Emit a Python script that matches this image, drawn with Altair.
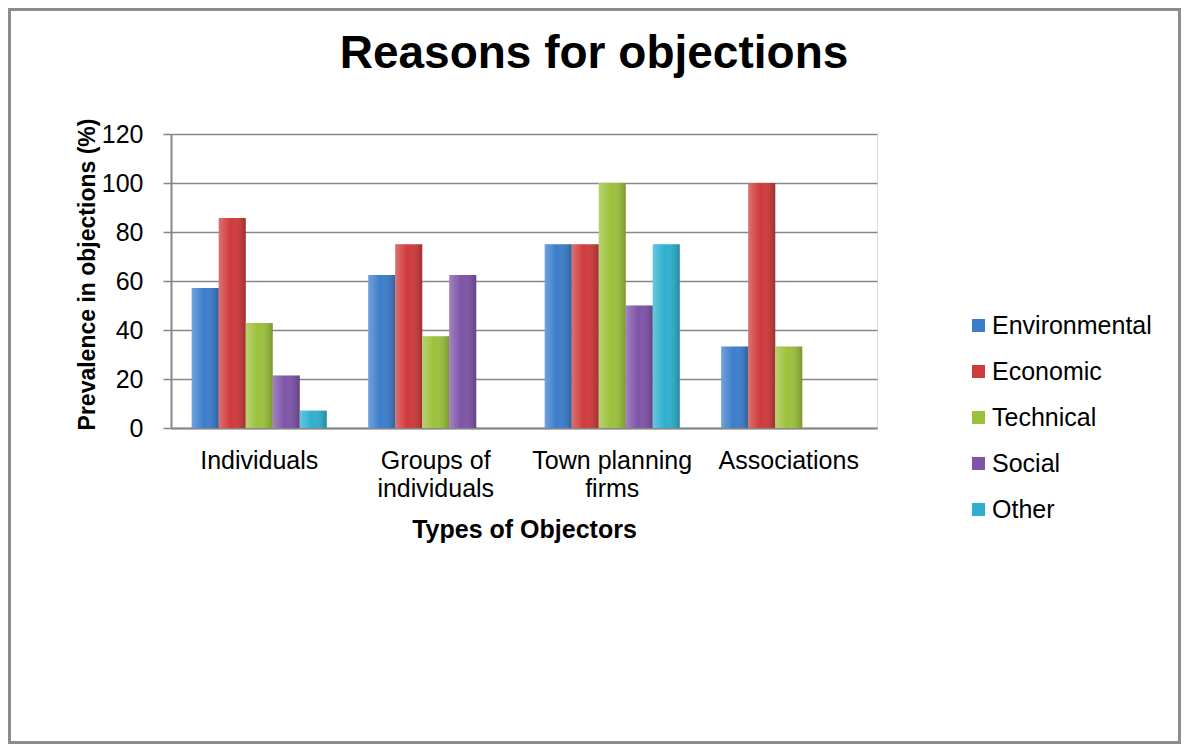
import altair as alt
import pandas as pd

categories = ["Individuals", "Groups of individuals", "Town planning firms", "Associations"]
reasons = ["Environmental", "Economic", "Technical", "Social", "Other"]
environmental = [57.1, 62.5, 75.0, 33.3]
economic = [85.7, 75.0, 75.0, 100.0]
technical = [42.9, 37.5, 100.0, 33.3]
social = [21.4, 62.5, 50.0, None]
other = [7.1, None, 75.0, None]
colors = ["#3B7DCB", "#CF3A3A", "#9CC13B", "#7E53A8", "#2DB0CF"]
y_ticks = [0, 20, 40, 60, 80, 100, 120]

series = [environmental, economic, technical, social, other]
rows = []
for reason, vals in zip(reasons, series):
    for cat, v in zip(categories, vals):
        if v is not None:
            rows.append({"Objector": cat, "Reason": reason, "Value": v})
df = pd.DataFrame(rows)

FONT = "Liberation Sans"
GRAY = "#878787"

label_expr = ("datum.label == 'Groups of individuals' ? ['Groups of', 'individuals'] : "
              "datum.label == 'Town planning firms' ? ['Town planning', 'firms'] : datum.label")

x_enc = alt.X("Objector:N", sort=categories,
              scale=alt.Scale(domain=categories, paddingInner=0.235, paddingOuter=0.1175),
              axis=alt.Axis(title="Types of Objectors", labelAngle=0, ticks=False,
                            domainColor=GRAY, domainWidth=2, labelFont=FONT, labelFontSize=25,
                            labelColor="black", labelPadding=20, labelLineHeight=28,
                            labelExpr=label_expr, titleFont=FONT, titleFontSize=25,
                            titleFontWeight="bold", titleColor="black", titleY=109,
                            titleBaseline="alphabetic", grid=False))
xo_enc = alt.XOffset("Reason:N", sort=reasons,
                     scale=alt.Scale(domain=reasons, paddingInner=0, paddingOuter=0))
y_enc = alt.Y("Value:Q", scale=alt.Scale(domain=[0, 120], nice=False),
              axis=alt.Axis(title="Prevalence in objections (%)", values=y_ticks,
                            tickSize=8, tickColor=GRAY, tickWidth=1.5, domainColor=GRAY,
                            domainWidth=2, gridColor=GRAY, gridWidth=1.3,
                            labelFont=FONT, labelFontSize=25, labelColor="black",
                            labelPadding=20, titleFont=FONT, titleFontSize=23,
                            titleFontWeight="bold", titleColor="black", titleX=-77,
                            titleY=140, titleAlign="center", titleBaseline="alphabetic",
                            titleAngle=270))

bars = alt.Chart(df).mark_bar().encode(
    x=x_enc, xOffset=xo_enc, y=y_enc,
    color=alt.Color("Reason:N", sort=reasons,
                    scale=alt.Scale(domain=reasons, range=colors),
                    legend=alt.Legend(title=None, orient="none", legendX=795, legendY=179,
                                      symbolType="square", symbolSize=169,
                                      symbolStrokeWidth=0, labelFont=FONT,
                                      labelFontSize=25, labelColor="black",
                                      rowPadding=20, padding=0, labelOffset=1)),
)

shine = alt.Chart(df).mark_bar(
    fill=alt.Gradient(
        gradient="linear", x1=0, x2=1, y1=0, y2=0,
        stops=[alt.GradientStop(color="rgba(255,255,255,0.28)", offset=0),
               alt.GradientStop(color="rgba(255,255,255,0)", offset=0.45),
               alt.GradientStop(color="rgba(0,0,0,0.22)", offset=1)],
    )
).encode(x=x_enc, xOffset=xo_enc, y=y_enc)

frame = alt.Chart(pd.DataFrame({"k": [0]})).mark_rect(
    fill="transparent", stroke="#8c8c8c", strokeWidth=3
).encode(x=alt.value(-161.5), x2=alt.value(1008.5), y=alt.value(-124.5), y2=alt.value(608.5))

chart = alt.layer(bars, shine, frame).properties(
    width=706, height=294,
    title=alt.TitleParams("Reasons for objections", font=FONT, fontSize=46,
                          fontWeight="bold", color="black", anchor="middle",
                          frame="group", dx=70, dy=106, baseline="alphabetic", offset=0),
    autosize=alt.AutoSizeParams(type="none"),
    padding={"left": 163, "top": 126, "right": 304, "bottom": 316},
).configure_view(stroke="transparent").configure(background="white")

chart.save("out.html", embed_options={"renderer": "svg", "actions": False})
